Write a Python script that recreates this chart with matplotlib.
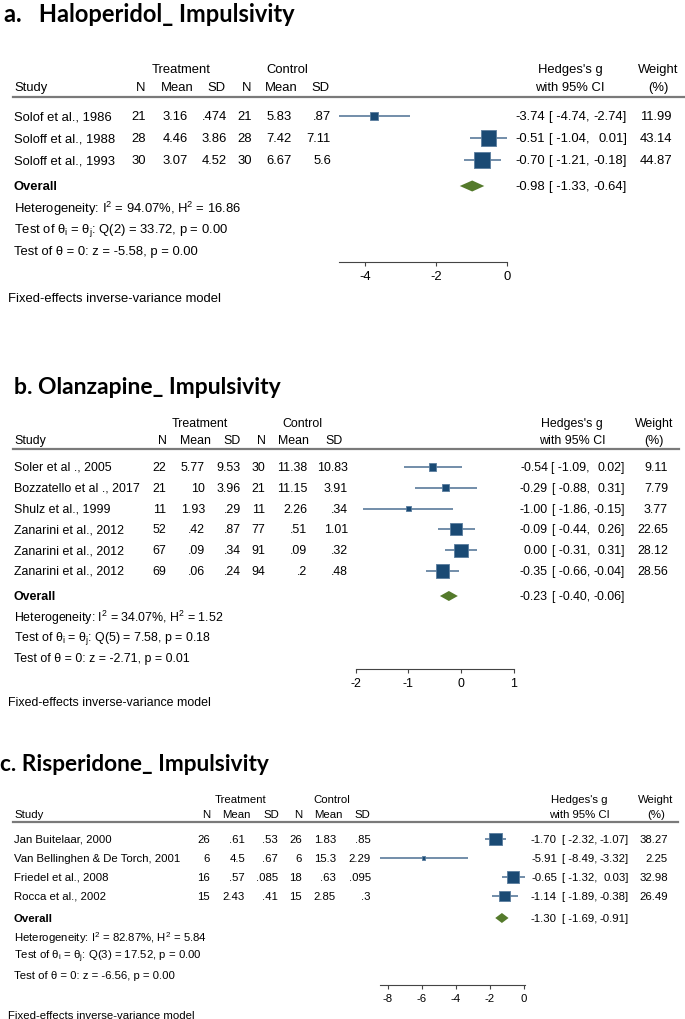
import matplotlib
matplotlib.use("Agg")
import matplotlib.pyplot as plt
import numpy as np

plt.rcParams['font.family'] = ['Liberation Sans', 'DejaVu Sans']
plt.rcParams['axes.unicode_minus'] = False

# ---------------- data ----------------
# a. Haloperidol
a_title = "a.   Haloperidol_ Impulsivity"
a_study = ["Solof et al., 1986", "Soloff et al., 1988", "Soloff et al., 1993"]
a_n1 = ["21", "28", "30"]
a_mean1 = ["3.16", "4.46", "3.07"]
a_sd1 = [".474", "3.86", "4.52"]
a_n2 = ["21", "28", "30"]
a_mean2 = ["5.83", "7.42", "6.67"]
a_sd2 = [".87", "7.11", "5.6"]
a_g = [-3.74, -0.51, -0.70]
a_lo = [-4.74, -1.04, -1.21]
a_hi = [-2.74, 0.01, -0.18]
a_w = [11.99, 43.14, 44.87]
a_overall = [-0.98, -1.33, -0.64]
a_het = [94.07, 16.86]
a_q = [2, 33.72, 0.00]
a_z = [-5.58, 0.00]
a_ticks = [-4, -2, 0]

# b. Olanzapine
b_title = "b. Olanzapine_ Impulsivity"
b_study = ["Soler et al ., 2005", "Bozzatello et al ., 2017", "Shulz et al., 1999",
           "Zanarini et al., 2012", "Zanarini et al., 2012", "Zanarini et al., 2012"]
b_n1 = ["22", "21", "11", "52", "67", "69"]
b_mean1 = ["5.77", "10", "1.93", ".42", ".09", ".06"]
b_sd1 = ["9.53", "3.96", ".29", ".87", ".34", ".24"]
b_n2 = ["30", "21", "11", "77", "91", "94"]
b_mean2 = ["11.38", "11.15", "2.26", ".51", ".09", ".2"]
b_sd2 = ["10.83", "3.91", ".34", "1.01", ".32", ".48"]
b_g = [-0.54, -0.29, -1.00, -0.09, 0.00, -0.35]
b_lo = [-1.09, -0.88, -1.86, -0.44, -0.31, -0.66]
b_hi = [0.02, 0.31, -0.15, 0.26, 0.31, -0.04]
b_w = [9.11, 7.79, 3.77, 22.65, 28.12, 28.56]
b_overall = [-0.23, -0.40, -0.06]
b_het = [34.07, 1.52]
b_q = [5, 7.58, 0.18]
b_z = [-2.71, 0.01]
b_ticks = [-2, -1, 0, 1]

# c. Risperidone
c_title = "c. Risperidone_ Impulsivity"
c_study = ["Jan Buitelaar, 2000", "Van Bellinghen & De Torch, 2001",
           "Friedel et al., 2008", "Rocca et al., 2002"]
c_n1 = ["26", "6", "16", "15"]
c_mean1 = [".61", "4.5", ".57", "2.43"]
c_sd1 = [".53", ".67", ".085", ".41"]
c_n2 = ["26", "6", "18", "15"]
c_mean2 = ["1.83", "15.3", ".63", "2.85"]
c_sd2 = [".85", "2.29", ".095", ".3"]
c_g = [-1.70, -5.91, -0.65, -1.14]
c_lo = [-2.32, -8.49, -1.32, -1.89]
c_hi = [-1.07, -3.32, 0.03, -0.38]
c_w = [38.27, 2.25, 32.98, 26.49]
c_overall = [-1.30, -1.69, -0.91]
c_het = [82.87, 5.84]
c_q = [3, 17.52, 0.00]
c_z = [-6.56, 0.00]
c_ticks = [-8, -6, -4, -2, 0]

# ---------------- layout (pixels) ----------------
W, H = 685, 1020
NAVY = '#1a4a74'
EDGE = '#5a7d9e'
CI_COL = '#4b6f92'
GREEN = '#547a2b'

panels = [
    dict(title=a_title, study=a_study, cols=[a_n1, a_mean1, a_sd1, a_n2, a_mean2, a_sd2],
         g=a_g, lo=a_lo, hi=a_hi, w=a_w, overall=a_overall, het=a_het, q=a_q, z=a_z, ticks=a_ticks,
         tx=4, ty=14, tfs=17, fs=9.4, h1=70, h2=88, line=98, line_r=685, row0=117, step=22, ogap=26,
         sstep=21.7, axis=263, fixed=299,
         col_r=[146, 188, 227, 252, 292, 331], col_h=[141, 177, 216, 247, 281, 320],
         grp=[181, 287], est_r=545, lo_r=590, hi_r=627, w_r=672, hg=570, wc=658,
         zero=507, ppu=35.5, span=(330, 520), dh=11, k=2.3),
    dict(title=b_title, study=b_study, cols=[b_n1, b_mean1, b_sd1, b_n2, b_mean2, b_sd2],
         g=b_g, lo=b_lo, hi=b_hi, w=b_w, overall=b_overall, het=b_het, q=b_q, z=b_z, ticks=b_ticks,
         tx=14, ty=388, tfs=16.5, fs=8.9, h1=424, h2=441, line=450, line_r=679, row0=468, step=20.8,
         ogap=25, sstep=20.7, axis=670, fixed=703,
         col_r=[166, 205, 241, 265, 307, 348], col_h=[162, 195, 232, 261, 293, 334],
         grp=[200, 302], est_r=548, lo_r=590, hi_r=625, w_r=668, hg=572, wc=654,
         zero=461, ppu=52.7, span=(340, 530), dh=10, k=2.5),
    dict(title=c_title, study=c_study, cols=[c_n1, c_mean1, c_sd1, c_n2, c_mean2, c_sd2],
         g=c_g, lo=c_lo, hi=c_hi, w=c_w, overall=c_overall, het=c_het, q=c_q, z=c_z, ticks=c_ticks,
         tx=0, ty=765, tfs=16.3, fs=8.2, h1=800, h2=815, line=823, line_r=678, row0=840, step=19,
         ogap=22, sstep=19, axis=986, fixed=1016,
         col_r=[210, 245, 278, 302, 336, 371], col_h=[206, 236, 271, 298, 328, 362],
         grp=[241, 332], est_r=557, lo_r=597, hi_r=629, w_r=668, hg=579, wc=656,
         zero=524, ppu=17, span=(370, 540), dh=10, k=2.1),
]

fig = plt.figure(figsize=(W / 100, H / 100), dpi=100)
ax_t = fig.add_axes([0, 0, 1, 1])
ax_t.set_xlim(0, W)
ax_t.set_ylim(H, 0)
ax_t.axis('off')

for p in panels:
    fs = p['fs']
    n = len(p['study'])
    rows = [p['row0'] + i * p['step'] for i in range(n)]
    y_over = rows[-1] + p['ogap']
    y_stats = [y_over + (j + 1) * p['sstep'] for j in range(3)]

    ax_t.text(p['tx'], p['ty'], p['title'], family=['Lato', 'DejaVu Sans'], weight='bold',
              fontsize=p['tfs'], va='center', ha='left')

    # headers
    ax_t.text(p['grp'][0], p['h1'], "Treatment", fontsize=fs, ha='center', va='center')
    ax_t.text(p['grp'][1], p['h1'], "Control", fontsize=fs, ha='center', va='center')
    ax_t.text(p['hg'], p['h1'], "Hedges's g", fontsize=fs, ha='center', va='center')
    ax_t.text(p['hg'], p['h2'], "with 95% CI", fontsize=fs, ha='center', va='center')
    ax_t.text(p['wc'], p['h1'], "Weight", fontsize=fs, ha='center', va='center')
    ax_t.text(p['wc'], p['h2'], "(%)", fontsize=fs, ha='center', va='center')
    ax_t.text(14, p['h2'], "Study", fontsize=fs, ha='left', va='center')
    for x, lab in zip(p['col_h'], ["N", "Mean", "SD", "N", "Mean", "SD"]):
        ax_t.text(x, p['h2'], lab, fontsize=fs, ha='center', va='center')
    ax_t.axhline(p['line'], xmin=13 / W, xmax=p['line_r'] / W, color='#7a7a7a', lw=1.6)

    # study rows
    for i, y in enumerate(rows):
        ax_t.text(14, y, p['study'][i], fontsize=fs, ha='left', va='center')
        for x, col in zip(p['col_r'], p['cols']):
            ax_t.text(x, y, col[i], fontsize=fs, ha='right', va='center')
        ax_t.text(p['est_r'], y, f"{p['g'][i]:.2f}", fontsize=fs, ha='right', va='center')
        ax_t.text(p['lo_r'], y, f"[ {p['lo'][i]:.2f},", fontsize=fs, ha='right', va='center')
        ax_t.text(p['hi_r'], y, f"{p['hi'][i]:.2f}]", fontsize=fs, ha='right', va='center')
        ax_t.text(p['w_r'], y, f"{p['w'][i]:.2f}", fontsize=fs, ha='right', va='center')

    og, olo, ohi = p['overall']
    ax_t.text(14, y_over, "Overall", fontsize=fs, weight='bold', ha='left', va='center')
    ax_t.text(p['est_r'], y_over, f"{og:.2f}", fontsize=fs, ha='right', va='center')
    ax_t.text(p['lo_r'], y_over, f"[ {olo:.2f},", fontsize=fs, ha='right', va='center')
    ax_t.text(p['hi_r'], y_over, f"{ohi:.2f}]", fontsize=fs, ha='right', va='center')

    stats = [
        r"Heterogeneity: I$^\mathregular{2}$ = %.2f%%, H$^\mathregular{2}$ = %.2f" % (p['het'][0], p['het'][1]),
        r"Test of θ$_\mathregular{i}$ = θ$_\mathregular{j}$: Q(%d) = %.2f, p = %.2f" % (p['q'][0], p['q'][1], p['q'][2]),
        "Test of θ = 0: z = %.2f, p = %.2f" % (p['z'][0], p['z'][1]),
    ]
    for y, s in zip(y_stats, stats):
        ax_t.text(14, y, s, fontsize=fs, ha='left', va='center')
    ax_t.text(8, p['fixed'], "Fixed-effects inverse-variance model", fontsize=fs, ha='left', va='center')

    # forest part
    x0, x1 = p['span']
    ax = fig.add_axes([x0 / W, 1 - p['axis'] / H, (x1 - x0) / W, (p['axis'] - p['line']) / H])
    ax.patch.set_visible(False)
    ax.set_xlim((x0 - p['zero']) / p['ppu'], (x1 - p['zero']) / p['ppu'])
    ax.set_ylim(p['axis'], p['line'])
    ax.hlines(rows, p['lo'], p['hi'], color=CI_COL, lw=1.1, zorder=2)
    size = (p['k'] * 0.72) ** 2 * np.array(p['w'])
    ax.scatter(p['g'], rows, s=size, marker='s', color=NAVY, edgecolors=EDGE, lw=0.6, zorder=3)
    dh = p['dh']
    ax.fill([olo, og, ohi, og], [y_over, y_over - dh / 2, y_over, y_over + dh / 2],
            color=GREEN, lw=0, zorder=3)

    for side in ['top', 'left', 'right']:
        ax.spines[side].set_visible(False)
    ax.spines['bottom'].set_color('#444444')
    ax.spines['bottom'].set_linewidth(0.8)
    ax.spines['bottom'].set_bounds(min(p['ticks'][0], min(p['lo'])), max(p['ticks'][-1], max(p['hi'])))
    ax.set_yticks([])
    ax.set_xticks(p['ticks'])
    ax.set_xticklabels([str(t) for t in p['ticks']])
    ax.tick_params(axis='x', direction='out', length=3, width=0.8, color='#444444',
                   labelsize=fs, pad=3)

fig.savefig("out.png", dpi=100)
